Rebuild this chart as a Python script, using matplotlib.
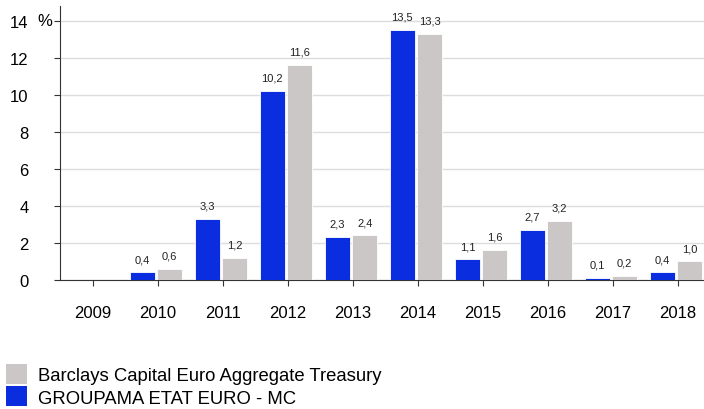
import matplotlib.pyplot as plt
import numpy as np
from matplotlib.patches import Patch

plt.rcParams['font.family'] = ['Liberation Sans', 'DejaVu Sans']

years = ['2009', '2010', '2011', '2012', '2013', '2014', '2015', '2016', '2017', '2018']
groupama = [np.nan, 0.4, 3.3, 10.2, 2.3, 13.5, 1.1, 2.7, 0.1, 0.4]
barclays = [np.nan, 0.6, 1.2, 11.6, 2.4, 13.3, 1.6, 3.2, 0.2, 1.0]
name_groupama = 'GROUPAMA ETAT EURO - MC'
name_barclays = 'Barclays Capital Euro Aggregate Treasury'

blue = '#0b2de0'
grey = '#cbc7c7'

fig = plt.figure(figsize=(7.04, 4.10), dpi=100)
ax = fig.add_axes([0.085, 0.315, 0.915, 0.668])

x = np.arange(len(years))
w = 0.39
ax.bar(x - 0.24, groupama, w, color=blue, edgecolor='white', linewidth=0.6, zorder=3)
ax.bar(x + 0.18, barclays, w, color=grey, edgecolor='white', linewidth=0.6, zorder=3)

def fmt(v):
    return ('%.1f' % v).replace('.', ',')

for xs, vals in ((x - 0.24, groupama), (x + 0.18, barclays)):
    for xi, v in zip(xs, vals):
        if np.isnan(v):
            continue
        ax.text(xi, v + 0.45, fmt(v), ha='center', va='bottom', fontsize=8, color='#222222', zorder=4)

ax.set_xlim(-0.51, 9.4)
ax.set_ylim(0, 14.8)
ax.set_yticks(range(0, 15, 2))
ax.set_xticks(x)
ax.set_xticklabels(years)
ax.yaxis.grid(True, color='#dddddd', linewidth=1, zorder=0)
ax.set_axisbelow(True)
for s in ('top', 'right'):
    ax.spines[s].set_visible(False)
ax.spines['left'].set_color('#333333')
ax.spines['bottom'].set_color('#333333')
ax.tick_params(axis='y', length=4, pad=18.5, labelsize=12, color='#333333')
ax.tick_params(axis='x', length=4, pad=14, labelsize=12, color='#333333')
ax.text(-0.024, 14, '%', transform=ax.get_yaxis_transform(), ha='center', va='center', fontsize=12)

handles = [Patch(facecolor=grey, edgecolor='none', label=name_barclays),
           Patch(facecolor=blue, edgecolor='none', label=name_groupama)]
fig.legend(handles=handles, loc='lower left', bbox_to_anchor=(-0.002, -0.012), frameon=False,
           fontsize=13.3, handlelength=1.15, handleheight=1.3, handletextpad=0.6, labelspacing=0.1,
           borderaxespad=0.0)

fig.savefig('out.png', dpi=100)
